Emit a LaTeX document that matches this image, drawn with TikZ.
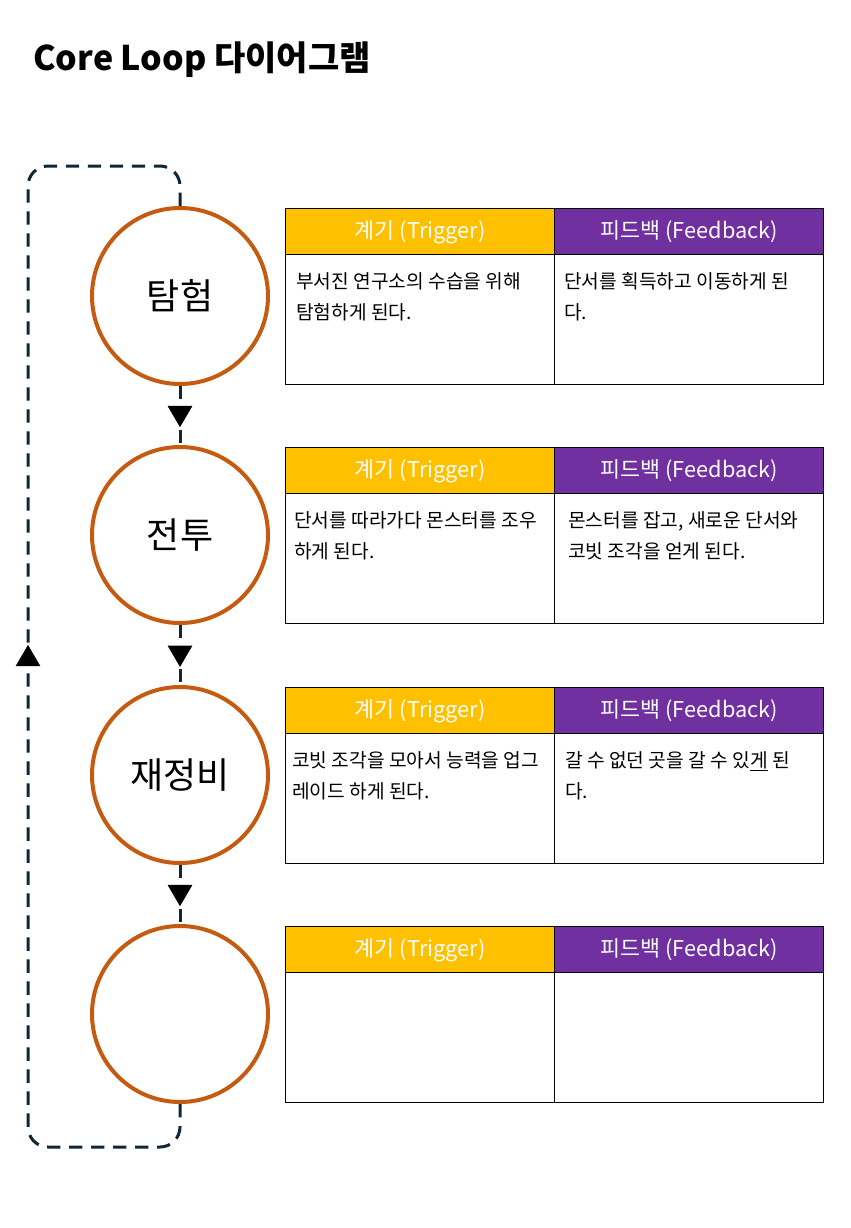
\documentclass[tikz,border=0pt]{standalone}
\usepackage{fontspec}
\setmainfont{Noto Sans CJK KR}
\usetikzlibrary{arrows.meta,decorations.markings}
\definecolor{trig}{HTML}{FFC000}
\definecolor{feed}{HTML}{7030A0}
\definecolor{ring}{HTML}{C55A11}
\definecolor{navy}{HTML}{0F2736}
\tikzset{
  px/.style={x=0.75pt,y=-0.75pt},
  circ/.style={circle,draw=ring,line width=3pt,fill=white,minimum size=132pt,inner sep=0pt,font=\fontsize{27}{30}\selectfont},
  hdr/.style={draw=black,line width=1.1pt,minimum width=201.75pt,minimum height=34.5pt,inner sep=0pt,anchor=north west,text=white,font=\fontsize{16.3}{19}\selectfont},
  hdrT/.style={hdr,fill=trig},
  hdrF/.style={hdr,fill=feed},
  cell/.style={draw=black,line width=1.1pt,minimum width=201.75pt,minimum height=97.5pt,inner sep=0pt,anchor=north west,fill=white},
  body/.style={anchor=north west,inner sep=0pt,align=left,font=\fontsize{14.4}{23.25}\selectfont},
  conn/.style={navy,line width=2.25pt,dash pattern=on 10pt off 6.5pt,
    postaction={decorate,decoration={markings,mark=at position 0.7 with {\arrow{Triangle[width=18pt,length=16pt,color=black]}}}}},
  loopline/.style={navy,line width=2.25pt,dash pattern=on 10pt off 6.5pt,rounded corners=15pt,
    postaction={decorate,decoration={markings,mark=at position 510pt with {\arrow{Triangle[width=18pt,length=16pt,color=black]}}}}},
}
\begin{document}
\begin{tikzpicture}[px]
\useasboundingbox[fill=white] (0,0) rectangle (850,1228);
\node[anchor=base west,inner sep=0pt,font=\bfseries\fontsize{25.5}{30}\selectfont] (title) at (33,70) {Core Loop 다이어그램};
% circles
\node[circ] (c1) at (180,296) {탐험};
\node[circ] (c2) at (180,535) {전투};
\node[circ] (c3) at (180,775) {재정비};
\node[circ] (c4) at (180,1014) {};
% connectors
\draw[conn] (c1) -- (c2);
\draw[conn] (c2) -- (c3);
\draw[conn] (c3) -- (c4);
\draw[loopline] (c4.south) |- (28,1147) |- (c1.north |- 0,166) -- (c1.north);
% table 1
\node[hdrT] (t1h) at (285,208) {계기 (Trigger)};
\node[hdrF] (f1h) at (554,208) {피드백 (Feedback)};
\node[cell] (t1b) at (285,254) {};
\node[cell] (f1b) at (554,254) {};
\node[body] (t1x) at ([shift={(11,18)}]t1b.north west) {부서진 연구소의 수습을 위해\\탐험하게 된다.};
\node[body] (f1x) at ([shift={(10,18)}]f1b.north west) {단서를 획득하고 이동하게 된\\다.};
% table 2
\node[hdrT] (t2h) at (285,447) {계기 (Trigger)};
\node[hdrF] (f2h) at (554,447) {피드백 (Feedback)};
\node[cell] (t2b) at (285,493) {};
\node[cell] (f2b) at (554,493) {};
\node[body] (t2x) at ([shift={(9,18)}]t2b.north west) {단서를 따라가다 몬스터를 조우\\하게 된다.};
\node[body] (f2x) at ([shift={(14,18)}]f2b.north west) {몬스터를 잡고, 새로운 단서와\\코빗 조각을 얻게 된다.};
% table 3
\node[hdrT] (t3h) at (285,687) {계기 (Trigger)};
\node[hdrF] (f3h) at (554,687) {피드백 (Feedback)};
\node[cell] (t3b) at (285,733) {};
\node[cell] (f3b) at (554,733) {};
\node[body] (t3x) at ([shift={(7,18)}]t3b.north west) {코빗 조각을 모아서 능력을 업그\\레이드 하게 된다.};
\node[body] (f3x) at ([shift={(11,18)}]f3b.north west) {갈 수 없던 곳을 갈 수 있\underline{게} 된\\다.};
% table 4
\node[hdrT] (t4h) at (285,926) {계기 (Trigger)};
\node[hdrF] (f4h) at (554,926) {피드백 (Feedback)};
\node[cell] (t4b) at (285,972) {};
\node[cell] (f4b) at (554,972) {};
\end{tikzpicture}
\end{document}
